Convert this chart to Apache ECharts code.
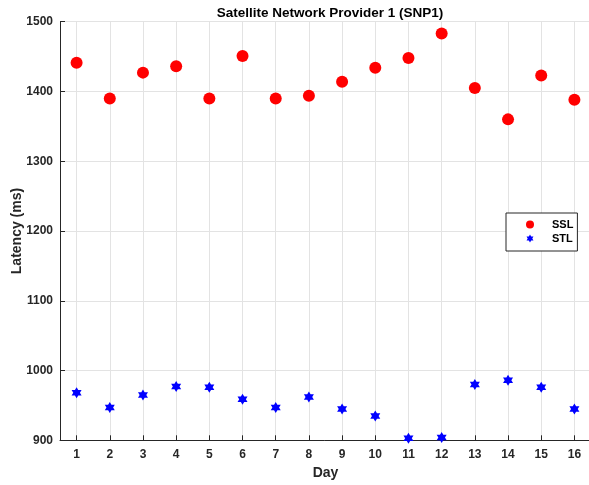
<!DOCTYPE html>
<html><head><meta charset="utf-8">
<script src="https://cdn.jsdelivr.net/npm/echarts@6/dist/echarts.min.js"></script>
<style>html,body{margin:0;padding:0;background:#fff}#c{width:589px;height:485px}</style>
</head><body><div id="c"></div>
<script>
const days = ['1','2','3','4','5','6','7','8','9','10','11','12','13','14','15','16'];
const sslValues = [1441,1390,1427,1436,1390,1451,1390,1394,1414,1434,1448,1483,1405,1360,1423,1388];
const stlValues = [968,947,965,977,976,959,947,962,945,935,903,904,980,986,976,945];
const yTicks = [900,1000,1100,1200,1300,1400,1500];

const star = 'path://M0,-100L28.87,-50L86.6,-50L57.7,0L86.6,50L28.87,50L0,100L-28.87,50L-86.6,50L-57.7,0L-86.6,-50L-28.87,-50Z';
const axisColor = '#262626';
const font = 'Liberation Sans, Arial, Helvetica, sans-serif';

const chart = echarts.init(document.getElementById('c'), null, {renderer:'canvas'});
chart.setOption({
  animation: false,
  backgroundColor: '#fff',
  title: {
    text: 'Satellite Network Provider 1 (SNP1)',
    left: 325, top: 1, textAlign: 'center',
    textStyle: {fontFamily: font, fontWeight: 'bold', fontSize: 13.5, color: '#000'}
  },
  legend: {
    left: 506, top: 213, orient: 'vertical',
    padding: [6, 4, 7, 20], itemWidth: 8, itemHeight: 8, itemGap: 3,
    backgroundColor: '#fff', borderColor: axisColor, borderWidth: 1, borderRadius: 0,
    textStyle: {fontFamily: font, fontWeight: 'bold', fontSize: 11, color: '#000', padding: [0,0,0,13]},
    data: [{name: 'SSL', icon: 'circle'}, {name: 'STL', icon: star}]
  },
  grid: {left: 60, top: 21.7, width: 531, height: 418.6, containLabel: false, outerBoundsMode: 'none'},
  xAxis: {
    type: 'category', data: days, boundaryGap: true,
    name: 'Day', nameLocation: 'middle', nameGap: 26, nameMoveOverlap: false,
    nameTextStyle: {fontFamily: font, fontWeight: 'bold', fontSize: 14, color: axisColor},
    axisLine: {lineStyle: {color: axisColor, width: 1}},
    axisTick: {show: true, inside: true, length: 5, alignWithLabel: true, lineStyle: {color: axisColor}},
    axisLabel: {fontFamily: font, fontWeight: 'bold', fontSize: 12, color: axisColor, margin: 8, interval: 0},
    splitLine: {show: true, alignWithLabel: true, lineStyle: {color: '#e3e3e3', width: 1}}
  },
  yAxis: {
    type: 'value', min: yTicks[0], max: yTicks[yTicks.length-1], interval: 100,
    name: 'Latency (ms)', nameLocation: 'middle', nameGap: 36, nameMoveOverlap: false,
    nameTextStyle: {fontFamily: font, fontWeight: 'bold', fontSize: 14, color: axisColor},
    axisLine: {show: true, lineStyle: {color: axisColor, width: 1}},
    axisTick: {show: true, inside: true, length: 5, lineStyle: {color: axisColor}},
    axisLabel: {fontFamily: font, fontWeight: 'bold', fontSize: 12, color: axisColor, margin: 7,
                formatter: v => String(v)},
    splitLine: {show: true, lineStyle: {color: '#e3e3e3', width: 1}}
  },
  series: [
    {name: 'SSL', type: 'scatter', data: sslValues, symbol: 'circle', symbolSize: 12,
     itemStyle: {color: '#ff0000', opacity: 1}},
    {name: 'STL', type: 'scatter', data: stlValues, symbol: star, symbolSize: [10, 11],
     itemStyle: {color: '#0000ff', opacity: 1}}
  ]
});
</script></body></html>
